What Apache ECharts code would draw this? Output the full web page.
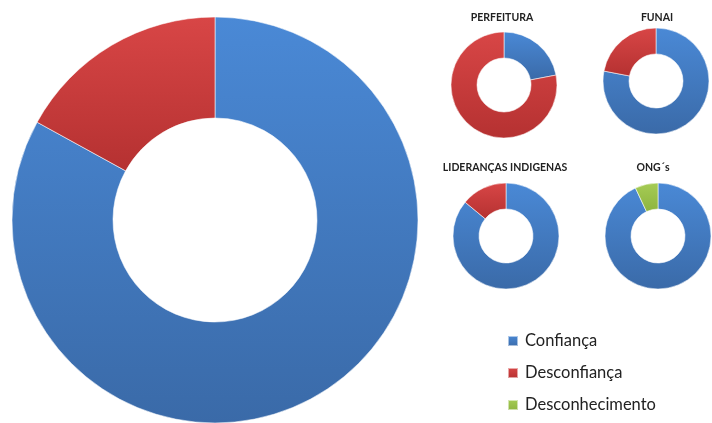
<!DOCTYPE html>
<html>
<head>
<meta charset="utf-8">
<script src="https://cdn.jsdelivr.net/npm/echarts@6/dist/echarts.min.js"></script>
<style>
  html, body { margin: 0; padding: 0; background: #fff; }
  #main { width: 712px; height: 423px; }
</style>
</head>
<body>
<div id="main"></div>
<script>
// categorias e valores (%)
const categories = ["Confiança", "Desconfiança", "Desconhecimento"];
const geralValues = [83, 17, 0];
const prefeituraValues = [22, 78, 0];
const funaiValues = [78, 22, 0];
const liderancasValues = [86, 14, 0];
const ongsValues = [93, 0, 7];
const smallTitles = ["PERFEITURA", "FUNAI", "LIDERANÇAS INDIGENAS", "ONG´s"];

const grad = (a, b) => new echarts.graphic.LinearGradient(0, 0, 0, 1, [
  { offset: 0, color: a },
  { offset: 1, color: b },
]);
const colors = [
  grad("#4a89d6", "#3a6aa8"),
  grad("#d84646", "#b53131"),
  grad("#a6cc55", "#8db43f"),
];

function toData(values) {
  // fatias com valor zero não são desenhadas
  return values
    .map((v, i) => ({ name: categories[i], value: v, itemStyle: { color: colors[i] } }))
    .filter((d) => d.value > 0);
}

function donut(values, center, radius) {
  return {
    type: "pie",
    center: center,
    radius: radius,
    startAngle: 90,
    clockwise: true,
    silent: true,
    label: { show: false },
    labelLine: { show: false },
    itemStyle: { borderColor: "rgba(255,255,255,0.55)", borderWidth: 1 },
    data: toData(values),
  };
}

const smallCenters = [[504, 85], [656, 81], [506, 236], [658, 236]];
const smallValues = [prefeituraValues, funaiValues, liderancasValues, ongsValues];
const titlePos = [[502, 12], [657, 12], [505, 162], [653, 162]];

const chart = echarts.init(document.getElementById("main"));
chart.setOption({
  animation: false,
  title: smallTitles.map((t, i) => ({
    text: t,
    left: titlePos[i][0],
    top: titlePos[i][1],
    textAlign: "center",
    padding: 0,
    textStyle: {
      fontFamily: "Lato",
      fontSize: 10.5,
      fontWeight: "bold",
      color: "#222",
    },
  })),
  legend: {
    orient: "vertical",
    left: 507,
    top: 332,
    height: 100,
    padding: 0,
    itemWidth: 10,
    itemHeight: 10,
    itemGap: 14,
    icon: "rect",
    data: categories,
    textStyle: {
      fontFamily: "Lato",
      fontSize: 16.5,
      lineHeight: 18,
      color: "#222",
      padding: [0, 0, 0, 2],
    },
  },
  series: [
    donut(geralValues, [215, 220], [102, 203]),
    ...smallValues.map((v, i) => donut(v, smallCenters[i], [27, 53])),
  ],
});
</script>
</body>
</html>
